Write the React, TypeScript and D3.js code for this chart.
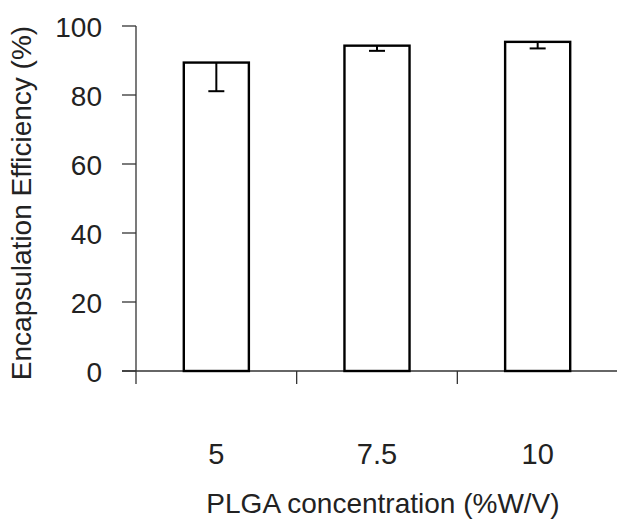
import React, { useRef, useEffect } from "react";
import * as d3 from "d3";

const categories = ["5", "7.5", "10"];
const means = [89.4, 94.3, 95.4];
const lowerErr = [81.1, 92.8, 93.5];
const yTicks = [0, 20, 40, 60, 80, 100];

export default function App() {
  const ref = useRef<SVGSVGElement>(null);

  useEffect(() => {
    const width = 617;
    const left = 136, right = 618, bottom = 371, top = 26;
    const font = "'Liberation Sans', Arial, sans-serif";
    const textColor = "#222";

    const svg = d3.select(ref.current);
    svg.selectAll("*").remove();

    const x = d3.scaleBand()
      .domain(categories)
      .range([left, right])
      .paddingInner(0.595)
      .paddingOuter(0.2975);

    const y = d3.scaleLinear().domain([0, 100]).range([bottom, top]);

    const axisColor = "#333";

    // y axis
    svg.append("line")
      .attr("x1", left).attr("x2", left)
      .attr("y1", y(100)).attr("y2", bottom + 13)
      .attr("stroke", axisColor).attr("stroke-width", 1.3);

    svg.selectAll(".ytick")
      .data(yTicks)
      .enter()
      .append("line")
      .attr("x1", left - 14).attr("x2", left)
      .attr("y1", d => y(d)).attr("y2", d => y(d))
      .attr("stroke", axisColor).attr("stroke-width", 1.3);

    svg.selectAll(".ylab")
      .data(yTicks)
      .enter()
      .append("text")
      .attr("x", 102)
      .attr("y", d => y(d) + 10.5)
      .attr("text-anchor", "end")
      .attr("font-family", font)
      .attr("font-size", 28)
      .attr("fill", textColor)
      .text(d => d);

    // x axis
    svg.append("line")
      .attr("x1", left - 14).attr("x2", width)
      .attr("y1", bottom).attr("y2", bottom)
      .attr("stroke", axisColor).attr("stroke-width", 1.3);

    const step = x.step();
    const boundaries = categories.slice(0, -1).map(c => x(c)! + x.bandwidth() + step * 0.595 / 2);
    svg.selectAll(".xtick")
      .data(boundaries)
      .enter()
      .append("line")
      .attr("x1", d => d).attr("x2", d => d)
      .attr("y1", bottom).attr("y2", bottom + 13)
      .attr("stroke", axisColor).attr("stroke-width", 1.3);

    // bars
    svg.selectAll(".bar")
      .data(categories)
      .enter()
      .append("rect")
      .attr("x", d => x(d)!)
      .attr("y", (d, i) => y(means[i]))
      .attr("width", x.bandwidth())
      .attr("height", (d, i) => bottom - y(means[i]))
      .attr("fill", "white")
      .attr("stroke", "#000")
      .attr("stroke-width", 2.4);

    // error bars (lower side only)
    categories.forEach((c, i) => {
      const cx = x(c)! + x.bandwidth() / 2;
      svg.append("line")
        .attr("x1", cx).attr("x2", cx)
        .attr("y1", y(means[i])).attr("y2", y(lowerErr[i]))
        .attr("stroke", "#000").attr("stroke-width", 2);
      svg.append("line")
        .attr("x1", cx - 8).attr("x2", cx + 8)
        .attr("y1", y(lowerErr[i])).attr("y2", y(lowerErr[i]))
        .attr("stroke", "#000").attr("stroke-width", 2);
    });

    // x labels
    svg.selectAll(".xlab")
      .data(categories)
      .enter()
      .append("text")
      .attr("x", d => x(d)! + x.bandwidth() / 2)
      .attr("y", 464)
      .attr("text-anchor", "middle")
      .attr("font-family", font)
      .attr("font-size", 29)
      .attr("fill", textColor)
      .text(d => d);

    // axis titles
    svg.append("text")
      .attr("x", 383)
      .attr("y", 513)
      .attr("text-anchor", "middle")
      .attr("font-family", font)
      .attr("font-size", 28)
      .attr("fill", textColor)
      .text("PLGA concentration (%W/V)");

    svg.append("text")
      .attr("transform", "translate(31,203) rotate(-90)")
      .attr("text-anchor", "middle")
      .attr("font-family", font)
      .attr("font-size", 28)
      .attr("fill", textColor)
      .text("Encapsulation Efficiency (%)");
  }, []);

  return (
    <svg
      ref={ref}
      width={617}
      height={519}
      style={{ position: "absolute", left: 0, top: 0, background: "white" }}
    />
  );
}
